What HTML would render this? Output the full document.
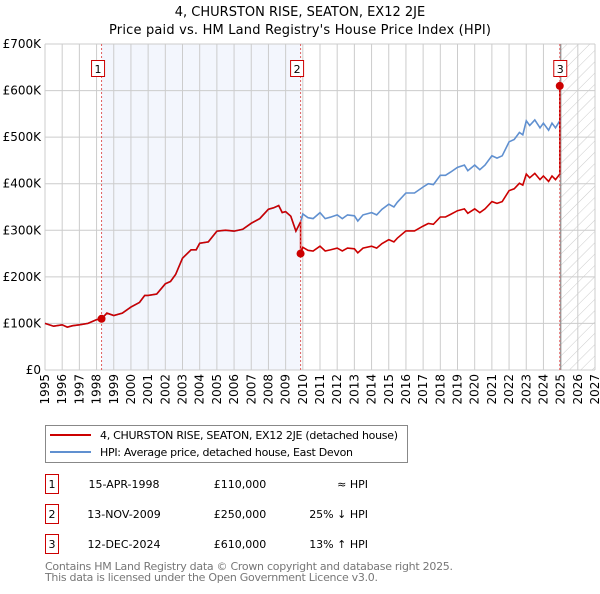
<!DOCTYPE html>
<html><head><meta charset="utf-8"><style>
body{margin:0;background:#fff;font-family:"DejaVu Sans","Liberation Sans",sans-serif;}
svg text{font-family:"DejaVu Sans","Liberation Sans",sans-serif;}
</style></head><body>
<svg id="c" width="600" height="590" xmlns="http://www.w3.org/2000/svg">
<defs><pattern id="hatch" width="8" height="8" patternUnits="userSpaceOnUse" patternTransform="rotate(45)"><line x1="0" y1="0" x2="0" y2="8" stroke="#ccc" stroke-width="1"/></pattern></defs>
<text x="300" y="16" text-anchor="middle" font-size="13">4, CHURSTON RISE, SEATON, EX12 2JE</text>
<text x="300" y="34" text-anchor="middle" font-size="13" textLength="382">Price paid vs. HM Land Registry's House Price Index (HPI)</text>
<g id="plot"></g>
<g>
<rect x="45.5" y="425.5" width="362" height="37" fill="#fff" stroke="#888"/>
<line x1="50" y1="435" x2="91" y2="435" stroke="#cc0000" stroke-width="2"/>
<text x="100" y="439" font-size="11" textLength="298">4, CHURSTON RISE, SEATON, EX12 2JE (detached house)</text>
<line x1="50" y1="452" x2="91" y2="452" stroke="#6090d0" stroke-width="2"/>
<text x="100" y="456" font-size="11" textLength="253">HPI: Average price, detached house, East Devon</text>
</g>
<g id="table" font-size="11"></g>
<text x="45" y="570" font-size="11" fill="#777" textLength="408">Contains HM Land Registry data © Crown copyright and database right 2025.</text>
<text x="45" y="581" font-size="11" fill="#777" textLength="333">This data is licensed under the Open Government Licence v3.0.</text>
</svg>
<script>
const hpiYears=[1995,1995.5,1996,1996.3,1996.6,1997,1997.5,1998,1998.3,1998.6,1999,1999.5,2000,2000.5,2000.8,2001,2001.5,2002,2002.3,2002.6,2003,2003.5,2003.8,2004,2004.5,2005,2005.5,2006,2006.5,2007,2007.5,2008,2008.3,2008.6,2008.8,2009,2009.3,2009.6,2009.87,2010,2010.3,2010.6,2011,2011.3,2011.6,2012,2012.3,2012.6,2013,2013.2,2013.5,2014,2014.3,2014.6,2015,2015.3,2015.5,2016,2016.5,2017,2017.3,2017.6,2018,2018.3,2018.6,2019,2019.4,2019.6,2020,2020.3,2020.6,2021,2021.3,2021.6,2022,2022.3,2022.6,2022.8,2023,2023.2,2023.5,2023.8,2024,2024.3,2024.5,2024.7,2024.95,2025];
const hpiValues=[100,94,97,92,95,97,100,108,110,122,117,122,135,145,160,160,163,185,190,205,240,258,258,272,275,298,300,298,302,315,325,345,348,353,338,340,330,298,318,335,327,325,338,325,328,333,325,333,331,320,333,338,333,345,356,350,360,380,380,393,400,398,418,418,425,435,440,428,440,430,440,460,455,460,490,495,510,505,535,525,537,520,530,515,530,520,535,540];
const saleLabels=["1","2","3"];
const saleDates=[1998.29,2009.87,2024.95];
const saleDateText=["15-APR-1998","13-NOV-2009","12-DEC-2024"];
const salePrices=[110,250,610];
const saleHpiText=["≈ HPI","25% ↓ HPI","13% ↑ HPI"];
const yTicks=[0,100,200,300,400,500,600,700];
const yTickLabels=["£0","£100K","£200K","£300K","£400K","£500K","£600K","£700K"];
const xTicks=[];for(let y=1995;y<=2027;y++)xTicks.push(y);

const L=45,R=595,T=44,B=370,x0=1995,x1=2027,yMax=700;
const X=v=>L+(v-x0)/(x1-x0)*(R-L);
const Y=v=>B-v/yMax*(B-T);
const NS="http://www.w3.org/2000/svg";
const g=document.getElementById('plot');
function mk(tag,attrs,parent){const e=document.createElementNS(NS,tag);for(const k in attrs)e.setAttribute(k,attrs[k]);(parent||g).appendChild(e);return e;}
function hpiAt(t){for(let i=1;i<hpiYears.length;i++){if(t<=hpiYears[i]){const a=hpiYears[i-1],b=hpiYears[i];return hpiValues[i-1]+(hpiValues[i]-hpiValues[i-1])*(t-a)/(b-a);}}return hpiValues[hpiValues.length-1];}

let r=mk('rect',{x:X(saleDates[0]),y:T,width:X(saleDates[1])-X(saleDates[0]),height:B-T,fill:'#f3f6fd'});


r=mk('rect',{x:X(saleDates[2]),y:T,width:X(2025)-X(saleDates[2]),height:B-T,fill:'#f3f6fd'});


r=mk('rect',{x:X(2025),y:T,width:R-X(2025),height:B-T,fill:'url(#hatch)'});



xTicks.forEach(v=>{const l=mk('line',{x1:X(v),x2:X(v),y1:T,y2:B,stroke:'#ccc','stroke-width':1});


const t=mk('text',{x:0,y:0,'font-size':12,'text-anchor':'end',transform:`translate(${X(v)+4},${B+4}) rotate(-90)`});t.textContent=v;

});
yTicks.forEach((v,i)=>{const l=mk('line',{x1:L,x2:R,y1:Y(v),y2:Y(v),stroke:'#ccc','stroke-width':1});


const t=mk('text',{x:L-4,y:Y(v)+4,'font-size':12,'text-anchor':'end'});t.textContent=yTickLabels[i];

});
let vl=mk('line',{x1:X(2025),x2:X(2025),y1:T,y2:B,stroke:'#999','stroke-width':1.5});



let p=hpiYears.map((t,i)=>`${i?'L':'M'}${X(t).toFixed(1)},${Y(hpiValues[i]).toFixed(1)}`).join('');
let hl=mk('path',{d:p,fill:'none',stroke:'#6090d0','stroke-width':1.6});


const pts=[];
const seg=t=>{let k=0;for(let i=0;i<saleDates.length;i++)if(t>=saleDates[i])k=i;return k;};
const allT=hpiYears.concat(saleDates).sort((a,b)=>a-b);
let prevK=null;
allT.forEach(t=>{const k=seg(t);
 if(prevK!==null&&k!==prevK){pts.push([t,hpiAt(t)*salePrices[prevK]/hpiAt(saleDates[prevK])]);}
 pts.push([t,hpiAt(t)*salePrices[k]/hpiAt(saleDates[k])]);prevK=k;});
p=pts.map((q,i)=>`${i?'L':'M'}${X(q[0]).toFixed(1)},${Y(q[1]).toFixed(1)}`).join('');
let pl=mk('path',{d:p,fill:'none',stroke:'#cc0000','stroke-width':1.6});



saleDates.forEach((d,i)=>{
 const l=mk('line',{x1:X(d),x2:X(d),y1:T,y2:B,stroke:'#e06060','stroke-width':1,'stroke-dasharray':'2,2'});
 
 
 const c=mk('circle',{cx:X(d),cy:Y(salePrices[i]),r:4,fill:'#cc0000'});
 
 
 const bx=X(d)-6-(i==2?0:4);
 const b=mk('rect',{x:bx,y:60.5,width:13,height:16,fill:'#fff',stroke:'#cc0000'});
 
 
 const t=mk('text',{x:bx+6.5,y:73,'font-size':11,'text-anchor':'middle'});t.textContent=saleLabels[i];
 
 
});

const tb=document.getElementById('table');
saleLabels.forEach((lab,i)=>{const y=483+i*30;
 const b=mk('rect',{x:45.5,y:y-8.5,width:13,height:19,fill:'#fff',stroke:'#cc0000'},tb);
 
 
 const cells=[[52,lab,'middle'],[124,saleDateText[i],'middle'],[240,'£'+(salePrices[i]*1000).toLocaleString('en-GB'),'middle'],[368,saleHpiText[i],'end']];
 cells.forEach(cl=>{const t=mk('text',{x:cl[0],y:y+5,'text-anchor':cl[2]},tb);t.textContent=cl[1];
 
 });
});
</script>
</body></html>
